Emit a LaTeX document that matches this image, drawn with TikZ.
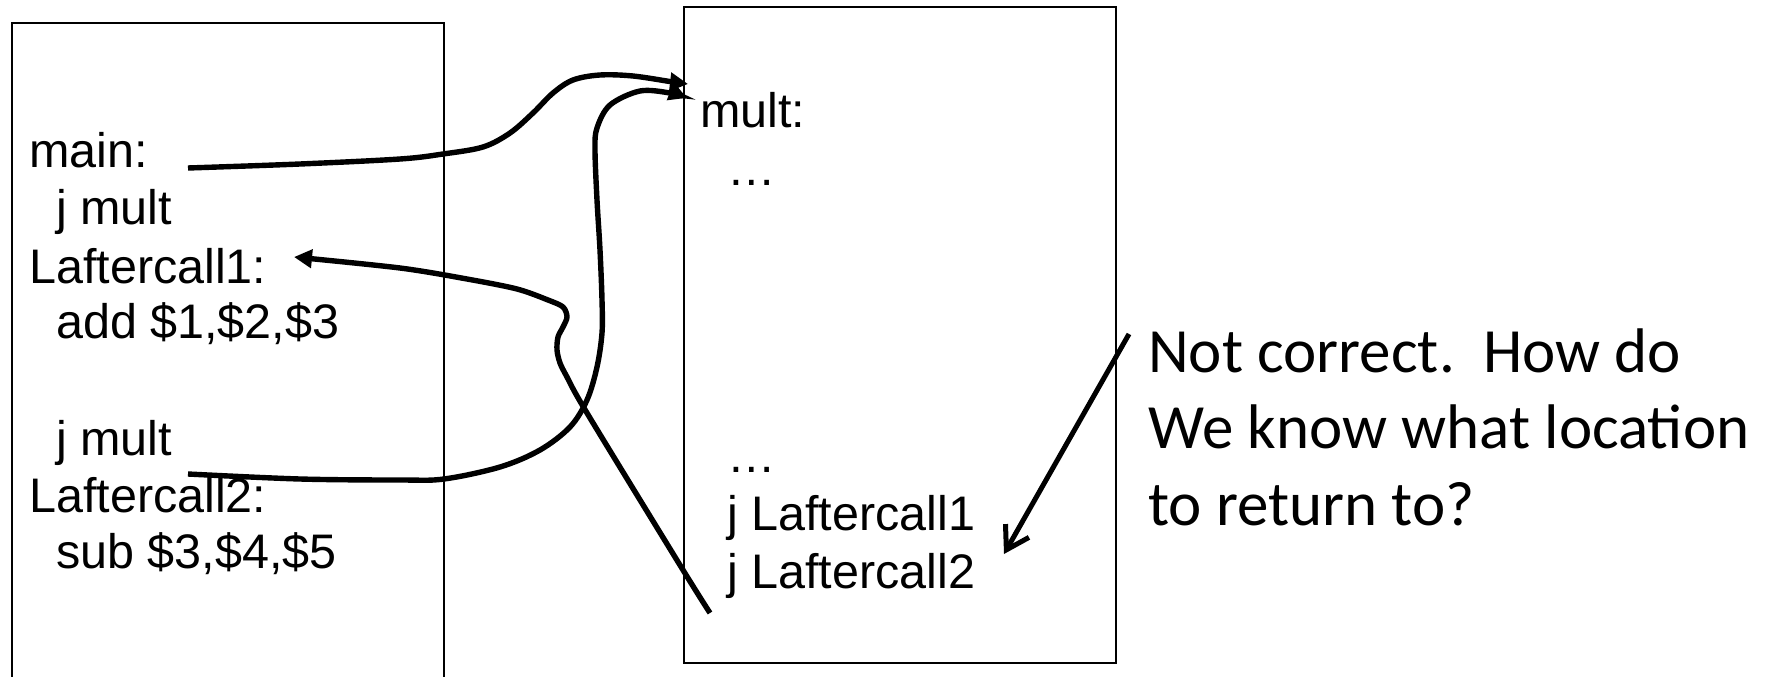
\documentclass[tikz,border=0pt]{standalone}
\usepackage{fontspec}
\setmainfont{Liberation Sans}
\newfontfamily\calfam{Carlito}
\usetikzlibrary{arrows.meta}
\newcommand{\codefnt}{\fontsize{48.5pt}{57pt}\selectfont}
\newcommand{\notefnt}{\calfam\fontsize{63pt}{76pt}\selectfont}
\tikzset{
  code/.style={font=\codefnt, inner sep=0pt, anchor=base west},
  note/.style={font=\notefnt, inner sep=0pt, anchor=base west},
  frame/.style={draw, line width=2.6pt},
  curve/.style={line width=5.4pt},
  filltip/.style={-{Triangle[length=18pt,width=18pt]}},
  barbtip/.style={-{Straight Barb[length=22pt,width=27pt]}}
}
\begin{document}
\begin{tikzpicture}[x=1pt,y=-1pt]
\useasboundingbox (0,0) rectangle (1775,677);
\fill[white] (0,0) rectangle (1775,677);
% frames
\draw[frame] (12,700) -- (12,23) -- (444,23) -- (444,700);
\draw[frame] (684,7) rectangle (1116,663);
% main program text
\node[code] (lmain) at (29,167) {main:};
\node[code] (ljm1) at (56,224) {j mult};
\node[code] (lac1) at (29,283) {Laftercall1:};
\node[code] (ladd) at (56,338) {add \$1,\$2,\$3};
\node[code] (ljm2) at (56,455) {j mult};
\node[code] (lac2) at (29,512) {Laftercall2:};
\node[code] (lsub) at (56,568) {sub \$3,\$4,\$5};
% mult text
\node[code] (rmult) at (700,127) {mult:};
\node[code] (rdot1) at (727,185) {\char"2026};
\node[code] (rdot2) at (727,472) {\char"2026};
\node[code] (rj1) at (727,530) {j Laftercall1};
\node[code] (rj2) at (727,588) {j Laftercall2};
% note
\node[note] (n1) at (1148,372) {Not correct.~~How do};
\node[note] (n2) at (1148,448) {We know what location};
\node[note] (n3) at (1148,525) {to return to?};
% connector end points
\coordinate (m1s) at (188,168);
\coordinate (m1e) at (688,84);
\coordinate (m2s) at (188,474);
\coordinate (m2e) at (687,98);
\coordinate (r1s) at (710,613);
\coordinate (r1e) at (294,257);
\coordinate (qs) at (1129,334);
\coordinate (qe) at (1004,554);
% connectors
\draw[curve, filltip] plot[smooth, tension=0.55] coordinates {(m1s) (300,164) (400,159) (443,154) (483,147) (510,133) (533,113) (553,93) (573,80) (600,75) (633,76) (673,82) (m1e)};
\draw[curve, filltip] plot[smooth, tension=0.55] coordinates {(m2s) (300,479) (400,480) (444,479) (500,467) (540,450) (570,427) (587,400) (597,367) (602,333) (602,300) (600,250) (597,200) (595,150) (597,128) (610,105) (640,91) (670,93) (m2e)};
\draw[curve, filltip] plot[smooth, tension=0.5] coordinates {(r1s) (683,570) (587,413) (567,377) (560,363) (557,350) (558,337) (563,327) (567,317) (563,307) (548,300) (517,289) (467,279) (400,268) (r1e)};
\draw[line width=5pt, barbtip] (qs) -- (qe);
\end{tikzpicture}
\end{document}
